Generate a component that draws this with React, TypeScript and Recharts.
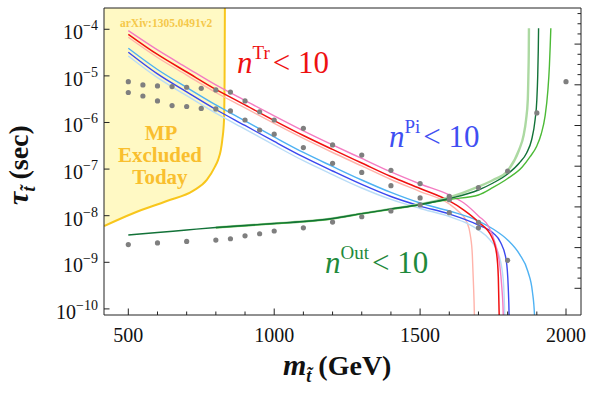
import React from 'react';
import { ComposedChart, Line, Area, Scatter, XAxis, YAxis } from 'recharts';

const WIDTH = 589;
const HEIGHT = 395;

const xDomain: [number, number] = [416.7, 2051.4];
const yDomain: [number, number] = [7.4e-11, 2.86e-4];
const rightDomain: [number, number] = [-0.656, 6.887];

const xTickValues = [500, 600, 700, 800, 900, 1000, 1100, 1200, 1300, 1400, 1500, 1600, 1700, 1800, 1900, 2000];
const yTickValues = [1e-10, 1e-9, 1e-8, 1e-7, 1e-6, 1e-5, 1e-4];
const rightTickValues = [0, 0.25, 0.5, 0.75, 1, 1.25, 1.5, 1.75, 2, 2.25, 2.5, 2.75, 3, 3.25, 3.5, 3.75, 4, 4.25, 4.5, 4.75, 5, 5.25, 5.5, 5.75, 6, 6.25, 6.5, 6.75];

type Pt = [number, number];

// n^Tr curves
const pinkCurve: Pt[] = [[500, 9.33e-5], [600, 3.6e-5], [700, 1.51e-5], [800, 6.38e-6], [900, 2.96e-6], [1000, 1.38e-6], [1100, 6.58e-7], [1200, 3.29e-7], [1300, 1.69e-7], [1400, 8.67e-8], [1500, 4.79e-8], [1600, 2.78e-8], [1650, 1.87e-8], [1700, 9.86e-9], [1735, 5.81e-9], [1757, 2.59e-9], [1772, 9.66e-10], [1780, 2.95e-10], [1785, 7.4e-11], [1787, 1e-11]];
const redCurve: Pt[] = [[500, 7.81e-5], [600, 2.88e-5], [700, 1.21e-5], [800, 5.11e-6], [900, 2.38e-6], [1000, 1.1e-6], [1100, 5.26e-7], [1200, 2.64e-7], [1300, 1.35e-7], [1400, 6.93e-8], [1500, 3.84e-8], [1600, 2.07e-8], [1650, 1.32e-8], [1700, 7.33e-9], [1745, 3.54e-9], [1762, 1.56e-9], [1768, 4.91e-10], [1771, 7.4e-11], [1773, 1e-11]];
const salmonCurve: Pt[] = [[500, 6.73e-5], [600, 2.48e-5], [700, 1.04e-5], [800, 4.4e-6], [900, 2.05e-6], [1000, 9.52e-7], [1100, 4.54e-7], [1200, 2.27e-7], [1300, 1.17e-7], [1400, 5.98e-8], [1500, 3.3e-8], [1600, 1.78e-8], [1630, 1.26e-8], [1660, 7.33e-9], [1672, 3.85e-9], [1679, 1.44e-9], [1683, 3.26e-10], [1686, 7.4e-11], [1688, 1e-11]];
// n^Pi curves
const skyCurve: Pt[] = [[500, 3.91e-5], [600, 1.37e-5], [700, 5.64e-6], [800, 2.38e-6], [900, 1.08e-6], [1000, 4.89e-7], [1100, 2.27e-7], [1200, 1.14e-7], [1300, 5.83e-8], [1400, 3.15e-8], [1500, 1.87e-8], [1600, 1.26e-8], [1700, 7.69e-9], [1750, 5.19e-9], [1800, 3.01e-9], [1840, 1.51e-9], [1870, 6.19e-10], [1885, 2.31e-10], [1892, 7.4e-11], [1895, 1e-11]];
const blueCurve: Pt[] = [[500, 3.21e-5], [600, 1.1e-5], [700, 4.52e-6], [800, 1.9e-6], [900, 8.63e-7], [1000, 3.91e-7], [1100, 1.82e-7], [1200, 9.1e-8], [1300, 4.68e-8], [1400, 2.58e-8], [1500, 1.61e-8], [1600, 1.09e-8], [1700, 6.31e-9], [1750, 4.26e-9], [1775, 2.73e-9], [1795, 1.12e-9], [1802, 2.95e-10], [1805, 7.4e-11], [1807, 1e-11]];
const paleCurve: Pt[] = [[500, 2.67e-5], [600, 9.14e-6], [700, 3.76e-6], [800, 1.58e-6], [900, 7.18e-7], [1000, 3.26e-7], [1100, 1.51e-7], [1200, 7.59e-8], [1300, 3.93e-8], [1400, 2.23e-8], [1500, 1.43e-8], [1600, 9.62e-9], [1650, 7.33e-9], [1700, 4.93e-9], [1740, 3.01e-9], [1770, 1.44e-9], [1785, 4.17e-10], [1790, 7.4e-11], [1792, 1e-11]];
// n^Out curves
const darkGreenCurve: Pt[] = [[500, 3.85e-9], [600, 4.36e-9], [700, 4.93e-9], [800, 5.58e-9], [900, 6.17e-9], [1000, 6.81e-9], [1100, 7.52e-9], [1200, 8.71e-9], [1300, 1.11e-8], [1400, 1.39e-8], [1500, 1.74e-8], [1600, 2.34e-8], [1700, 3.56e-8], [1750, 5.03e-8], [1800, 7.85e-8], [1840, 1.35e-7], [1865, 2.22e-7], [1882, 4.21e-7], [1894, 1.13e-6], [1900, 3.04e-6], [1903, 9.6e-6], [1905, 3.6e-5], [1906, 1.05e-4]];
const lightGreenCurve: Pt[] = [[800, 5.58e-9], [900, 6.17e-9], [1000, 6.81e-9], [1100, 7.52e-9], [1200, 8.71e-9], [1300, 1.11e-8], [1400, 1.39e-8], [1500, 1.76e-8], [1600, 2.46e-8], [1700, 4.19e-8], [1750, 5.83e-8], [1800, 9.24e-8], [1839, 2.57e-7], [1855, 5.39e-7], [1863, 1.13e-6], [1869, 3.04e-6], [1871, 9.6e-6], [1872.5, 3.6e-5], [1873, 1.05e-4]];
const midGreenCurve: Pt[] = [[800, 5.5e-9], [900, 6.1e-9], [1000, 6.75e-9], [1100, 7.45e-9], [1200, 8.6e-9], [1300, 1.1e-8], [1400, 1.37e-8], [1500, 1.72e-8], [1600, 2.23e-8], [1700, 2.78e-8], [1750, 4.03e-8], [1800, 6.28e-8], [1850, 1.11e-7], [1877, 1.85e-7], [1900, 3.13e-7], [1915, 5.66e-7], [1928, 1.33e-6], [1938, 4.98e-6], [1943, 1.57e-5], [1946, 4.6e-5], [1948, 1.05e-4]];

// benchmark points
const dotsUpper: Pt[] = [[500, 7.5e-6], [550, 6.4e-6], [600, 6.1e-6], [650, 5.9e-6], [700, 5.7e-6], [750, 5.4e-6], [800, 5.0e-6], [850, 4.5e-6], [900, 2.9e-6], [950, 1.7e-6], [1000, 1.13e-6], [1100, 7.5e-7], [1200, 3.3e-7], [1300, 2.0e-7], [1400, 9.4e-8], [1500, 4.9e-8], [1600, 2.6e-8], [1700, 7.2e-9], [1800, 1.1e-9]];
const dotsLower: Pt[] = [[500, 4.4e-6], [550, 3.7e-6], [600, 2.9e-6], [650, 2.3e-6], [700, 2.2e-6], [750, 2.0e-6], [800, 1.95e-6], [850, 1.77e-6], [900, 1.13e-6], [950, 6.9e-7], [1000, 5.6e-7], [1100, 2.9e-7], [1200, 1.33e-7], [1300, 8.5e-8], [1400, 4.4e-8], [1500, 2.4e-8], [1600, 1.16e-8], [1700, 5.5e-9]];
const dotsOut: Pt[] = [[500, 2.4e-9], [600, 2.6e-9], [700, 2.8e-9], [800, 3.0e-9], [850, 3.2e-9], [900, 3.7e-9], [950, 4.1e-9], [1000, 4.7e-9], [1100, 5.5e-9], [1200, 7.3e-9], [1300, 9.5e-9], [1400, 1.26e-8], [1500, 1.7e-8], [1600, 2.2e-8], [1700, 4.0e-8], [1800, 9.0e-8], [1900, 1.6e-6], [2000, 7.5e-6]];

// MP exclusion boundary (region above/left is excluded)
const exclusionBoundary: Pt[] = [[417, 6.0e-9], [517, 1.13e-8], [632, 2.07e-8], [723, 3.45e-8], [769, 5.85e-8], [797, 1.13e-7], [808, 1.6e-7], [817, 2.57e-7], [822, 4.2e-7], [828, 1.13e-6], [830, 1.0e-5], [831, 3.0e-4]];

const toRows = (pts: Pt[]) => pts.map(([x, y]) => ({ x, y }));

const SERIF = "'Liberation Serif', 'DejaVu Serif', serif";
const FRAME = '#222';

const curves = [
  { name: 'salmon', data: salmonCurve, color: '#ffb3aa', w: 1.4 },
  { name: 'pale', data: paleCurve, color: '#b9dcf7', w: 1.4 },
  { name: 'sky', data: skyCurve, color: '#4fb2f3', w: 1.4 },
  { name: 'blue', data: blueCurve, color: '#3a48ef', w: 1.4 },
  { name: 'pink', data: pinkCurve, color: '#f47cc2', w: 1.4 },
  { name: 'red', data: redCurve, color: '#f01010', w: 1.5 },
  { name: 'lightGreen', data: lightGreenCurve, color: '#acd9a2', w: 2.4 },
  { name: 'midGreen', data: midGreenCurve, color: '#4cba36', w: 1.4 },
  { name: 'darkGreen', data: darkGreenCurve, color: '#127238', w: 1.4 },
];

const BottomTick = (props: any) => {
  const { x, y, payload } = props;
  const v = payload.value;
  const major = v % 500 === 0;
  return (
    <g>
      <line x1={x} x2={x} y1={y} y2={y - (major ? 6.5 : 3.5)} stroke={FRAME} strokeWidth={1} />
      {major && (
        <text x={x} y={y + 27} textAnchor="middle" fontFamily={SERIF} fontSize={20} fill="#111">{v}</text>
      )}
    </g>
  );
};

const TopTick = (props: any) => {
  const { x, y, payload } = props;
  const major = payload.value % 500 === 0;
  return <line x1={x} x2={x} y1={y} y2={y + (major ? 6.5 : 3.5)} stroke={FRAME} strokeWidth={1} />;
};

const LeftTick = (props: any) => {
  const { x, y, payload } = props;
  const exp = Math.round(Math.log10(payload.value));
  return (
    <g>
      <line x1={x} x2={x + 5.5} y1={y} y2={y} stroke={FRAME} strokeWidth={1} />
      <text x={x - 6} y={y + 10} textAnchor="end" fontFamily={SERIF} fontSize={20} fill="#111">
        <tspan>10</tspan>
        <tspan fontSize={14} dy={-9}>{'\u2212' + Math.abs(exp)}</tspan>
      </text>
    </g>
  );
};

const RightTick = (props: any) => {
  const { x, y, payload } = props;
  const major = Number.isInteger(payload.value);
  return <line x1={x} x2={x - (major ? 6.5 : 3.5)} y1={y} y2={y} stroke={FRAME} strokeWidth={1} />;
};

const Dot = (props: any) => {
  const { cx, cy } = props;
  if (cx == null || cy == null) return <g />;
  return <circle cx={cx} cy={cy} r={2.6} fill="#7f7f7f" />;
};

const Label = ({ x, y, sup, color }: { x: number; y: number; sup: string; color: string }) => (
  <text x={x} y={y} fontFamily={SERIF} fontSize={31} fill={color}>
    <tspan fontStyle="italic">n</tspan>
    <tspan fontSize={19} dy={-14}>{sup}</tspan>
    <tspan dy={14} dx={3}>{'<'}</tspan>
    <tspan>{' 10'}</tspan>
  </text>
);

export default function App() {
  return (
    <div style={{ position: 'absolute', left: 0, top: 0, width: WIDTH, height: HEIGHT, background: '#fff' }}>
      <ComposedChart width={WIDTH} height={HEIGHT} margin={{ top: 0, right: 0, bottom: 0, left: 0 }}>
        <XAxis
          xAxisId="main"
          dataKey="x"
          type="number"
          domain={xDomain}
          allowDataOverflow
          ticks={xTickValues}
          interval={0}
          height={80}
          tickSize={0}
          tickMargin={0}
          tickLine={false}
          tick={BottomTick}
          axisLine={{ stroke: FRAME, strokeWidth: 1 }}
        />
        <XAxis
          xAxisId="top"
          orientation="top"
          type="number"
          domain={xDomain}
          allowDataOverflow
          ticks={xTickValues}
          interval={0}
          height={8}
          tickSize={0}
          tickMargin={0}
          tickLine={false}
          tick={TopTick}
          axisLine={{ stroke: FRAME, strokeWidth: 1 }}
        />
        <YAxis
          yAxisId="main"
          dataKey="y"
          type="number"
          scale="log"
          domain={yDomain}
          allowDataOverflow
          ticks={yTickValues}
          interval={0}
          width={104}
          tickSize={0}
          tickMargin={0}
          tickLine={false}
          tick={LeftTick}
          axisLine={{ stroke: FRAME, strokeWidth: 1 }}
        />
        <YAxis
          yAxisId="right"
          orientation="right"
          type="number"
          domain={rightDomain}
          allowDataOverflow
          ticks={rightTickValues}
          interval={0}
          width={8}
          tickSize={0}
          tickMargin={0}
          tickLine={false}
          tick={RightTick}
          axisLine={{ stroke: FRAME, strokeWidth: 1 }}
        />
        {curves.map((c) => (
          <Line
            key={c.name}
            xAxisId="main"
            yAxisId="main"
            data={toRows(c.data)}
            dataKey="y"
            type="monotone"
            stroke={c.color}
            strokeWidth={c.w}
            dot={false}
            activeDot={false}
            isAnimationActive={false}
          />
        ))}
        <Scatter xAxisId="main" yAxisId="main" data={toRows(dotsUpper)} dataKey="y" shape={Dot} isAnimationActive={false} />
        <Scatter xAxisId="main" yAxisId="main" data={toRows(dotsLower)} dataKey="y" shape={Dot} isAnimationActive={false} />
        <Scatter xAxisId="main" yAxisId="main" data={toRows(dotsOut)} dataKey="y" shape={Dot} isAnimationActive={false} />
        <Area
          xAxisId="main"
          yAxisId="main"
          data={toRows(exclusionBoundary)}
          dataKey="y"
          type="monotone"
          baseValue="dataMax"
          stroke="#f8c61c"
          strokeWidth={2}
          fill="#ffea3a"
          fillOpacity={0.3}
          dot={false}
          activeDot={false}
          isAnimationActive={false}
        />
      </ComposedChart>
      <svg
        width={WIDTH}
        height={HEIGHT}
        style={{ position: 'absolute', left: 0, top: 0, pointerEvents: 'none' }}
      >
        <text x={120} y={27} fontFamily={SERIF} fontWeight="bold" fontSize={11.5} fill="#f5c84a">arXiv:1305.0491v2</text>
        <g fontFamily={SERIF} fontWeight="bold" fontSize={21} fill="#f9bf2f" textAnchor="middle">
          <text x={161} y={140}>MP</text>
          <text x={160} y={162}>Excluded</text>
          <text x={160} y={184}>Today</text>
        </g>
        <Label x={237} y={73} sup="Tr" color="#ee1111" />
        <Label x={389} y={147} sup="Pi" color="#3f4ff2" />
        <Label x={325} y={273} sup="Out" color="#1f8a3c" />
        <text x={283} y={375} fontFamily={SERIF} fontWeight="bold" fontSize={28} fill="#111">
          <tspan fontStyle="italic" fontSize={30}>m</tspan>
          <tspan fontStyle="italic" fontSize={18} dy={7}>{'t\u0303'}</tspan>
          <tspan dy={-7}>{' (GeV)'}</tspan>
        </text>
        <text
          transform="translate(28,165) rotate(-90)"
          textAnchor="middle"
          fontFamily={SERIF}
          fontWeight="bold"
          fontSize={28}
          fill="#111"
        >
          <tspan fontStyle="italic" fontSize={30}>τ</tspan>
          <tspan fontStyle="italic" fontSize={18} dy={7}>{'t\u0303'}</tspan>
          <tspan dy={-7}>{' (sec)'}</tspan>
        </text>
      </svg>
    </div>
  );
}
